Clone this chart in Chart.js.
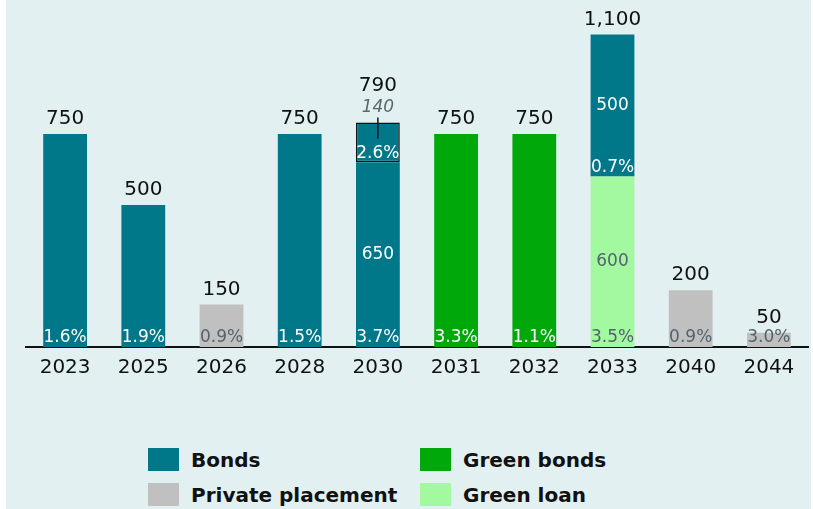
<!DOCTYPE html>
<html lang="en">
<head>
<meta charset="UTF-8">
<title>Debt maturity profile</title>
<script src="https://cdn.jsdelivr.net/npm/chart.js"></script>
<style>
  body { margin:0; background:#fff; }
  #wrap { position:absolute; left:6px; top:0; width:805px; height:509px; background:#e2f0f2; }
  #chart { position:absolute; left:0; top:0; }
  #legend { position:absolute; left:142px; top:448px; display:grid; grid-template-columns:272px 240px; row-gap:12px;
            font-family:"DejaVu Sans", sans-serif; font-weight:bold; font-size:20px; color:#111; }
  .item { display:flex; align-items:center; height:23px; }
  .box { width:31px; height:23px; margin-right:12px; }
</style>
</head>
<body>
<div id="wrap">
  <canvas id="chart" width="805" height="400"></canvas>
  <div id="legend"></div>
</div>
<script>
const years = ['2023', '2025', '2026', '2028', '2030', '2031', '2032', '2033', '2040', '2044'];
const bonds      = [750, 500, null, 750, 650, null, null, 500, null, null];
const bondsExtra = [null, null, null, null, 140, null, null, null, null, null];
const greenBonds = [null, null, null, null, null, 750, 750, null, null, null];
const greenLoan  = [null, null, null, null, null, null, null, 600, null, null];
const privatePl  = [null, null, 150, null, null, null, null, null, 200, 50];

const bondsRate      = ['1.6%', '1.9%', null, '1.5%', '3.7%', null, null, '0.7%', null, null];
const bondsExtraRate = [null, null, null, null, '2.6%', null, null, null, null, null];
const greenBondsRate = [null, null, null, null, null, '3.3%', '1.1%', null, null, null];
const greenLoanRate  = [null, null, null, null, null, null, null, '3.5%', null, null];
const privateRate    = [null, null, '0.9%', null, null, null, null, null, '0.9%', '3.0%'];

const totals = [750, 500, 150, 750, 790, 750, 750, 1100, 200, 50];

const TEAL = '#00788a', GREEN = '#00a80a', LGREEN = '#a2f99f', GREY = '#c0c0c0';
const FONT = '"DejaVu Sans", sans-serif';

// dataset order = stacking order (bottom first)
const datasets = [
  { label: 'Green loan', data: greenLoan, backgroundColor: LGREEN, rates: greenLoanRate, ink: '#55636e', mid: true },
  { label: 'Bonds', data: bonds, backgroundColor: TEAL, rates: bondsRate, ink: '#fff', mid: true },
  { label: 'Bonds (extra)', data: bondsExtra, backgroundColor: TEAL, rates: bondsExtraRate, ink: '#fff',
    borderColor: '#111', borderWidth: 1.5, borderSkipped: false, callout: true },
  { label: 'Green bonds', data: greenBonds, backgroundColor: GREEN, rates: greenBondsRate, ink: '#fff' },
  { label: 'Private placement', data: privatePl, backgroundColor: GREY, rates: privateRate, ink: '#55636e' }
];

const legendItems = [
  ['Bonds', TEAL], ['Green bonds', GREEN], ['Private placement', GREY], ['Green loan', LGREEN]
];
document.getElementById('legend').innerHTML = legendItems.map(([t, c]) =>
  `<div class="item"><span class="box" style="background:${c}"></span>${t}</div>`).join('');

// labels on bars
const barLabels = {
  id: 'barLabels',
  afterDatasetsDraw(chart) {
    const ctx = chart.ctx;
    ctx.save();
    ctx.textAlign = 'center';
    ctx.textBaseline = 'middle';
    const multi = years.map((_, i) => chart.data.datasets.filter(d => d.data[i] != null).length > 1);
    chart.data.datasets.forEach((ds, di) => {
      const meta = chart.getDatasetMeta(di);
      meta.data.forEach((bar, i) => {
        if (ds.data[i] == null) return;
        const bottom = bar.base, top = bar.y;
        if (ds.rates[i]) {
          ctx.font = '17px ' + FONT;
          ctx.fillStyle = ds.ink;
          ctx.fillText(ds.rates[i], bar.x, bottom - 9);
        }
        if (ds.mid && multi[i]) {
          ctx.font = '17px ' + FONT;
          ctx.fillStyle = ds.ink;
          ctx.fillText(ds.data[i], bar.x, (top + bottom) / 2);
        }
        if (ds.callout) {
          ctx.font = 'italic 17px ' + FONT;
          ctx.fillStyle = '#5b6770';
          ctx.fillText(ds.data[i], bar.x, top - 15);
          ctx.strokeStyle = '#111';
          ctx.lineWidth = 1.5;
          ctx.beginPath();
          ctx.moveTo(bar.x, top - 5);
          ctx.lineTo(bar.x, top + 16);
          ctx.stroke();
        }
      });
    });
    // totals
    const yScale = chart.scales.y, xScale = chart.scales.x;
    ctx.font = '20px ' + FONT;
    ctx.fillStyle = '#111';
    totals.forEach((t, i) => {
      const extra = bondsExtra[i] != null ? 22 : 0;
      ctx.fillText(t.toLocaleString('en-US'), xScale.getPixelForValue(i), yScale.getPixelForValue(t) - 15 - extra);
    });
    ctx.restore();
  }
};

new Chart(document.getElementById('chart').getContext('2d'), {
  type: 'bar',
  data: { labels: years, datasets },
  options: {
    responsive: false,
    animation: false,
    layout: { padding: { left: 20, right: 3, top: 6, bottom: 11 } },
    datasets: { bar: { barPercentage: 0.56, categoryPercentage: 1 } },
    scales: {
      x: {
        stacked: true,
        grid: { display: false, drawTicks: false },
        border: { display: true, color: '#111', width: 2 },
        ticks: { color: '#111', font: { family: FONT, size: 20 }, padding: 9 }
      },
      y: { stacked: true, display: false, min: 0, max: 1200 }
    },
    plugins: { legend: { display: false }, tooltip: { enabled: false } }
  },
  plugins: [barLabels]
});
</script>
</body>
</html>
